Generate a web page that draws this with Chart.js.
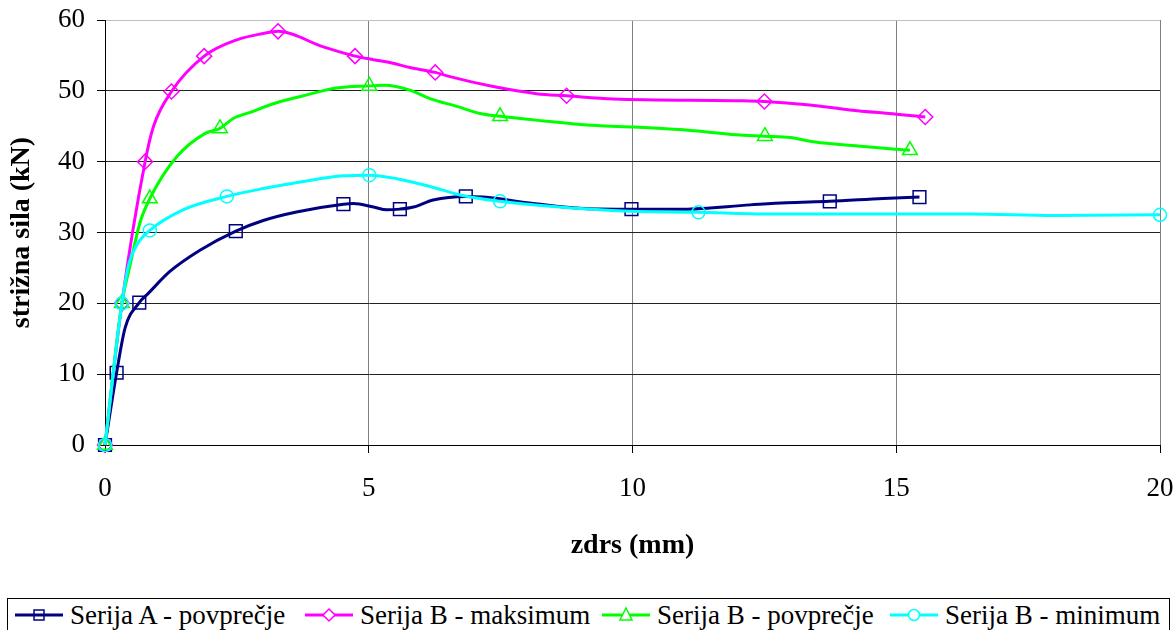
<!DOCTYPE html>
<html>
<head>
<meta charset="utf-8">
<script src="https://cdn.jsdelivr.net/npm/chart.js@4.4.0/dist/chart.umd.min.js"></script>
<style>
  html, body { margin: 0; padding: 0; background: #fff; overflow: hidden; }
  #okvir { position: relative; width: 1176px; height: 630px; }
  #graf { position: absolute; left: 0; top: 0; }
  #legenda {
    position: absolute; left: 7px; top: 598px; width: 1163px; height: 40px;
    border: 1px solid #000; box-sizing: border-box;
    font-family: "Liberation Serif", serif; font-size: 27px; color: #000; line-height: 30px;
  }
  .vnos { position: absolute; top: 1px; display: flex; align-items: center; white-space: nowrap; }
  .vnos svg { margin-right: 7px; }
</style>
</head>
<body>
<div id="okvir">
  <canvas id="graf" width="1176" height="598"></canvas>
  <div id="legenda"></div>
</div>
<script>
// Podatki, odčitani z diagrama: zdrs (mm) in strižna sila (kN)
const serijaA_x = [0, 0.22, 0.38, 0.65, 0.82, 1.23, 1.8, 2.48, 3.0, 3.63, 4.52, 4.71, 5.09, 5.34, 5.59, 5.85, 6.22, 6.84, 7.17, 8.12, 9.07, 9.98, 10.96, 12.23, 12.92, 13.74, 14.75, 15.44];
const serijaA_y = [0, 10.2, 16.5, 20.1, 21.4, 24.5, 27.5, 30.2, 31.7, 32.9, 34.0, 34.1, 33.6, 33.2, 33.3, 33.6, 34.6, 35.1, 35.0, 34.1, 33.4, 33.3, 33.3, 33.9, 34.2, 34.4, 34.8, 35.0];
const serijaA_oznake = [0, 1, 3, 7, 10, 14, 17, 21, 25, 27];

const serijaBmax_x = [0, 0.32, 0.76, 0.92, 1.26, 1.88, 2.5, 3.0, 3.28, 4.14, 4.74, 5.09, 5.4, 5.78, 6.26, 6.54, 7.36, 8.18, 8.75, 9.64, 12.04, 12.5, 13.36, 14.12, 15.0, 15.55];
const serijaBmax_y = [0, 20, 40, 45, 49.9, 54.9, 57.2, 58.1, 58.4, 56.2, 54.9, 54.4, 54.0, 53.3, 52.6, 52.0, 50.6, 49.6, 49.3, 48.85, 48.6, 48.5, 48.0, 47.3, 46.7, 46.3];
const serijaBmax_oznake = [0, 1, 2, 4, 5, 8, 10, 14, 18, 21, 25];

const serijaBpov_x = [0, 0.32, 0.47, 0.66, 0.85, 1.36, 1.9, 2.18, 2.43, 2.81, 3.16, 3.76, 4.39, 5.01, 5.31, 5.78, 6.16, 6.67, 7.11, 7.49, 8.12, 9.32, 10.02, 10.96, 11.97, 12.51, 12.99, 13.43, 14.44, 15.26];
const serijaBpov_y = [0, 20, 25.2, 31.3, 34.8, 40.7, 44.0, 44.7, 46.1, 47.1, 48.1, 49.3, 50.4, 50.7, 50.8, 50.1, 48.9, 47.8, 46.8, 46.4, 45.9, 45.1, 44.9, 44.5, 43.8, 43.6, 43.4, 42.8, 42.1, 41.6];
const serijaBpov_oznake = [0, 1, 4, 7, 13, 19, 25, 29];

const serijaBmin_x = [0, 0.32, 0.45, 0.6, 0.85, 1.48, 2.31, 3.0, 3.76, 4.52, 5.01, 5.53, 6.16, 6.73, 7.49, 8.44, 9.95, 11.25, 12.54, 16.4, 18.0, 20.0];
const serijaBmin_y = [0, 20, 25.5, 28.2, 30.3, 33.2, 35.1, 36.2, 37.2, 38.0, 38.1, 37.6, 36.5, 35.3, 34.4, 33.7, 33.0, 32.85, 32.6, 32.6, 32.4, 32.5];
const serijaBmin_oznake = [0, 1, 4, 6, 10, 14, 17, 21];

const imenaSerij = ['Serija A - povprečje', 'Serija B - maksimum', 'Serija B - povprečje', 'Serija B - minimum'];

const pisava = 'Liberation Serif';

function tocke(xs, ys) {
  return xs.map((x, i) => ({ x: x, y: ys[i] }));
}

function serija(ime, xs, ys, oznake, barva, oblika, r, red) {
  return {
    label: ime,
    data: tocke(xs, ys),
    borderColor: barva,
    backgroundColor: 'transparent',
    borderWidth: 3,
    pointStyle: oblika,
    pointBorderColor: barva,
    pointBackgroundColor: 'transparent',
    pointBorderWidth: 1.5,
    pointRadius: ys.map((v, i) => oznake.includes(i) ? r : 0),
    pointHoverRadius: 0,
    cubicInterpolationMode: 'monotone',
    clip: false,
    order: red
  };
}

const podatki = {
  datasets: [
    serija(imenaSerij[0], serijaA_x, serijaA_y, serijaA_oznake, '#000080', 'rect', 9, 4),
    serija(imenaSerij[1], serijaBmax_x, serijaBmax_y, serijaBmax_oznake, '#FF00FF', 'rectRot', 7.5, 3),
    serija(imenaSerij[2], serijaBpov_x, serijaBpov_y, serijaBpov_oznake, '#00FF00', 'triangle', 8.5, 2),
    serija(imenaSerij[3], serijaBmin_x, serijaBmin_y, serijaBmin_oznake, '#00FFFF', 'circle', 6.5, 1)
  ]
};

var ctx = document.getElementById('graf').getContext('2d');
var graf = new Chart(ctx, {
  type: 'line',
  data: podatki,
  options: {
    responsive: false,
    animation: false,
    layout: { padding: { top: 20, right: 16, left: 0, bottom: 0 } },
    plugins: {
      legend: { display: false },
      tooltip: { enabled: false }
    },
    scales: {
      x: {
        type: 'linear',
        min: 0,
        max: 20,
        ticks: { stepSize: 5, color: '#000', font: { family: pisava, size: 27 }, padding: 20, maxRotation: 0 },
        grid: { color: '#808080', tickColor: '#000', tickLength: 8 },
        border: { color: '#000' },
        title: { display: true, text: 'zdrs (mm)', color: '#000', font: { family: pisava, size: 28, weight: 'bold' }, padding: { top: 0, bottom: 35 } },
        afterFit: s => { s.height = 598 - 445; s.paddingLeft = 0; s.paddingRight = 0; }
      },
      y: {
        min: 0,
        max: 60,
        ticks: { stepSize: 10, color: '#000', font: { family: pisava, size: 27 }, padding: 12 },
        grid: { color: c => c.tick && c.tick.value === 60 ? '#c0c0c0' : '#222', tickColor: '#000', tickLength: 8 },
        border: { color: '#000' },
        title: { display: true, text: 'strižna sila (kN)', color: '#000', font: { family: pisava, size: 28, weight: 'bold' }, padding: { top: 5, bottom: 0 } },
        afterFit: s => { s.width = 105; s.paddingTop = 0; s.paddingBottom = 0; }
      }
    }
  }
});

// Legenda pod grafom (črta + oznaka, kot v Excelu)
function simbol(barva, oblika) {
  let m = '';
  if (oblika === 'rect') m = '<rect x="19" y="5" width="10" height="10" fill="none" stroke="' + barva + '" stroke-width="1.5"/>';
  if (oblika === 'rectRot') m = '<polygon points="24,4 30,10 24,16 18,10" fill="white" stroke="' + barva + '" stroke-width="1.5"/>';
  if (oblika === 'triangle') m = '<polygon points="24,3 30,15 18,15" fill="white" stroke="' + barva + '" stroke-width="1.5"/>';
  if (oblika === 'circle') m = '<circle cx="24" cy="10" r="5.5" fill="white" stroke="' + barva + '" stroke-width="1.5"/>';
  return '<svg width="48" height="20"><line x1="0" y1="10" x2="48" y2="10" stroke="' + barva + '" stroke-width="3"/>' + m + '</svg>';
}

const legendaLevo = [7, 297, 594, 882];
const leg = document.getElementById('legenda');
podatki.datasets.forEach((d, i) => {
  const el = document.createElement('div');
  el.className = 'vnos';
  el.style.left = legendaLevo[i] + 'px';
  el.innerHTML = simbol(d.borderColor, d.pointStyle) + '<span>' + d.label + '</span>';
  leg.appendChild(el);
});
</script>
</body>
</html>
